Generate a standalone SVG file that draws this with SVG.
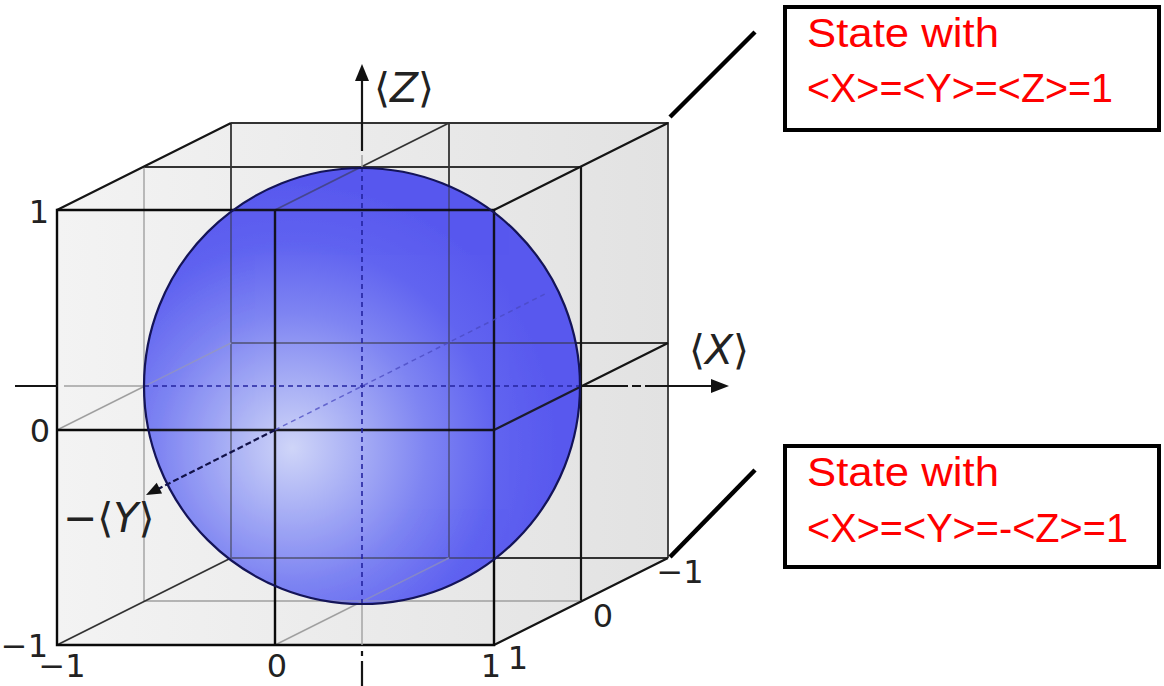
<svg xmlns="http://www.w3.org/2000/svg" xmlns:xlink="http://www.w3.org/1999/xlink" width="1164" height="686" viewBox="0 0 1164 686">
<style>
.lbl{font-family:"DejaVu Sans","Liberation Sans",sans-serif;fill:#222;}
.num{font-size:32px;}
.ax{font-size:41px;}
.dk{stroke:#151515;stroke-width:2.2;fill:none;}
.md{stroke:#333;stroke-width:1.8;fill:none;}
.lt{stroke:#a0a0a0;stroke-width:1.4;fill:none;}
.fr{stroke:#0a0a0a;stroke-width:2.4;fill:none;}
.call{font-family:"Liberation Sans",Arial,sans-serif;font-size:40px;fill:#ff0000;}
.box{fill:#fff;stroke:#000;stroke-width:4;}
.lead{stroke:#000;stroke-width:4.5;}
.dash{stroke:#2424a0;stroke-width:1.6;stroke-dasharray:5 4;fill:none;}
</style>
<defs>
<linearGradient id="cubeFill" gradientUnits="userSpaceOnUse" x1="57" y1="0" x2="668" y2="0">
<stop offset="0" stop-color="#f3f3f3"/>
<stop offset="1" stop-color="#e2e2e2"/>
</linearGradient>
<radialGradient id="sphereFill" gradientUnits="userSpaceOnUse" cx="292" cy="448" r="270">
<stop offset="0" stop-color="#cfd5f8"/>
<stop offset="0.22" stop-color="#abb2f5"/>
<stop offset="0.5" stop-color="#7e84f2"/>
<stop offset="0.75" stop-color="#6164f0"/>
<stop offset="1" stop-color="#5858ee"/>
</radialGradient>
<clipPath id="sphereClip"><circle cx="362" cy="386" r="218"/></clipPath>
</defs>

<g id="cube">
<polygon points="57,210 231,123 668,123 668,558 494,645 57,645" fill="url(#cubeFill)"/>
<g id="grid-back">
<path class="md" d="M231,123H668V558M231,123V558H668M449,123V558M231,343H668"/>
<path class="md" d="M144,167H581"/>
<path class="dk" d="M581,167V601"/>
<path class="lt" d="M144,167V601M144,601H581"/>
<path class="lt" d="M57,430L231,343M275,645L449,558"/>
<path class="md" d="M275,210L449,123M57,645L231,558"/>
</g>
<g id="grid-front">
<path class="dk" d="M57,210L231,123M494,210L668,123M494,430L668,343M494,645L668,558"/>
<path class="fr" d="M57,210H494V645H57ZM275,210V645M57,430H494"/>
</g>
</g>

<g id="axes-under">
<path class="dk" d="M15,386H58"/>
<path class="lt" d="M64,386H143"/>
<path class="dk" d="M581,386H628M632,386H641M645,386H713"/>
<path class="dk" d="M362,80V151"/>
<path class="lt" d="M362,155V167M362,605V645"/>
<path class="dk" d="M362,651V656M362,661V686"/>
</g>

<g id="sphere">
<circle cx="362" cy="386" r="218" fill="url(#sphereFill)"/>
<g clip-path="url(#sphereClip)">
<use xlink:href="#grid-back" href="#grid-back" opacity="0.5"/>
<use xlink:href="#grid-front" href="#grid-front" opacity="0.9"/>
</g>
<path class="dash" d="M362,167V605M144,386H581"/>
<path d="M275,430L545,294" stroke="#4a4ac0" stroke-width="1.5" stroke-dasharray="5 4" opacity="0.75" fill="none"/>
<path d="M275,430L156,490" stroke="#121248" stroke-width="2.2" stroke-dasharray="6 3" fill="none"/>
<circle cx="362" cy="386" r="218" fill="none" stroke="#141458" stroke-width="2.2"/>
</g>

<g id="arrowheads" fill="#111">
<polygon points="362,64 355,81 369,81"/>
<polygon points="729,386 711,379 711,393"/>
<polygon points="146,495 156.7,482.8 162.1,493.6"/>
</g>

<g id="labels">
<text class="lbl num" x="49" y="223" text-anchor="end">1</text>
<text class="lbl num" x="50" y="442" text-anchor="end">0</text>
<text class="lbl num" x="48" y="657" text-anchor="end">−1</text>
<text class="lbl num" x="62" y="677" text-anchor="middle">−1</text>
<text class="lbl num" x="277" y="677" text-anchor="middle">0</text>
<text class="lbl num" x="491" y="677" text-anchor="middle">1</text>
<text class="lbl num" x="518" y="669" text-anchor="middle">1</text>
<text class="lbl num" x="603" y="627" text-anchor="middle">0</text>
<text class="lbl num" x="680" y="583" text-anchor="middle">−1</text>
<text class="lbl ax" x="374" y="102">⟨<tspan font-style="italic">Z</tspan>⟩</text>
<text class="lbl ax" x="689" y="364">⟨<tspan font-style="italic">X</tspan>⟩</text>
<text class="lbl ax" x="63" y="532">−⟨<tspan font-style="italic">Y</tspan>⟩</text>
</g>

<g id="connectors">
<line class="lead" x1="670" y1="117" x2="755" y2="32"/>
<line class="lead" x1="670" y1="557" x2="755" y2="470"/>
</g>

<g id="callout-top">
<rect class="box" x="785" y="7" width="374" height="123"/>
<text class="call" x="807" y="47" textLength="192" lengthAdjust="spacingAndGlyphs">State with</text>
<text class="call" x="807" y="102" textLength="306" lengthAdjust="spacingAndGlyphs">&lt;X&gt;=&lt;Y&gt;=&lt;Z&gt;=1</text>
</g>

<g id="callout-bottom">
<rect class="box" x="785" y="446" width="374" height="121"/>
<text class="call" x="807" y="486" textLength="192" lengthAdjust="spacingAndGlyphs">State with</text>
<text class="call" x="807" y="542" textLength="321" lengthAdjust="spacingAndGlyphs">&lt;X&gt;=&lt;Y&gt;=-&lt;Z&gt;=1</text>
</g>
</svg>
